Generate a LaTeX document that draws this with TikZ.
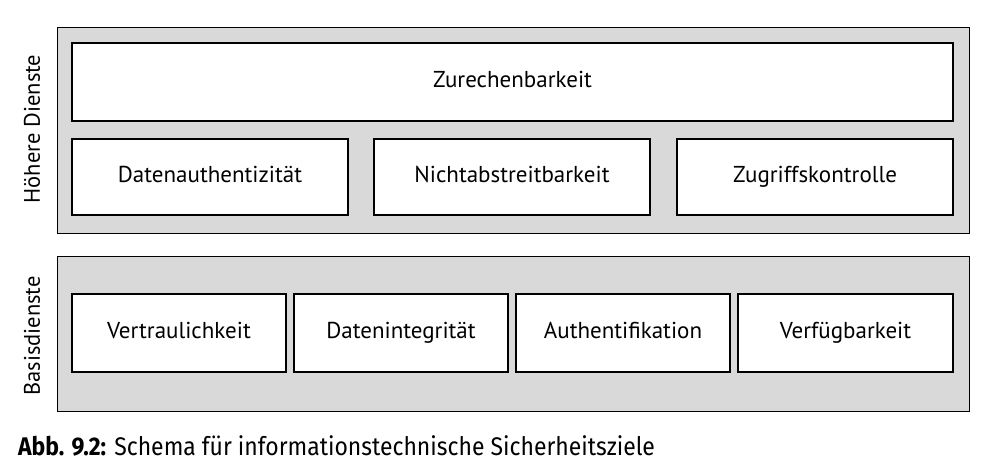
\documentclass[tikz,border=0pt]{standalone}
\usepackage{fontspec}
\setmainfont{PT Sans}
\newfontfamily\capfont[FakeStretch=0.9]{Fira Sans}
\definecolor{panelgray}{HTML}{D9D9D9}
\begin{document}
\begin{tikzpicture}[x=1pt,y=-1pt,
  panel/.style={draw=black,line width=1pt,fill=panelgray},
  goal/.style={draw=black,line width=1.4pt,fill=white,text height=16pt,text depth=5pt,
    font=\fontsize{23}{27}\selectfont},
  sidelabel/.style={rotate=90,font=\fontsize{22.5}{27}\selectfont}]
\useasboundingbox (0,0) rectangle (983,475);
% panels
\draw[panel] (57,27) rectangle (969,233);
\draw[panel] (57,256) rectangle (969,411);
% higher services
\node[goal,minimum width=881,minimum height=78] (zur) at (512.5,82) {Zurechenbarkeit};
\node[goal,minimum width=276,minimum height=76] (dat) at (210,177) {Datenauthentizität};
\node[goal,minimum width=276,minimum height=76] (nab) at (512,177) {Nichtabstreitbarkeit};
\node[goal,minimum width=276,minimum height=76] (zug) at (815,177) {Zugriffskontrolle};
% basic services
\node[goal,minimum width=214,minimum height=78] (ver) at (179,333) {Vertraulichkeit};
\node[goal,minimum width=214,minimum height=78] (din) at (401,333) {Datenintegrität};
\node[goal,minimum width=214,minimum height=78] (aut) at (623,333) {Authentifikation};
\node[goal,minimum width=215,minimum height=78] (vfg) at (845.5,333) {Verfügbarkeit};
% side labels
\node[sidelabel] (hd) at (32,129) {Höhere Dienste};
\node[sidelabel] (bd) at (32,336) {Basisdienste};
% caption
\node[anchor=base west,inner sep=0pt,font=\capfont\fontsize{25.5}{29}\selectfont] (cap) at (18,455)
  {\textbf{Abb. 9.2:} Schema für informationstechnische Sicherheitsziele};
\end{tikzpicture}
\end{document}
